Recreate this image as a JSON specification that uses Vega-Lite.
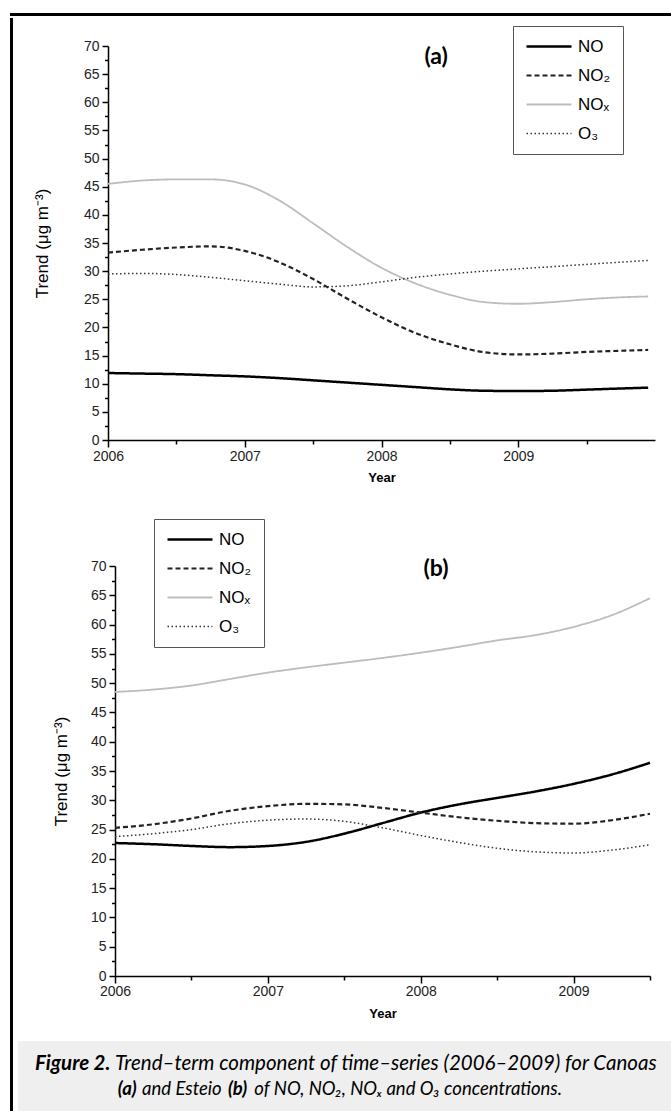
{
  "$schema": "https://vega.github.io/schema/vega-lite/v6.json",
  "background": "white",
  "padding": {"left": 8, "top": 11, "right": 0, "bottom": 0},
  "autosize": {"type": "pad"},
  "config": {
    "view": {"stroke": null},
    "axis": {"domainColor": "#000", "domainWidth": 1.5, "tickColor": "#000", "tickWidth": 1.5, "labelFont": "Liberation Sans", "labelFontSize": 14, "labelColor": "#222", "titleFont": "Liberation Sans", "titleColor": "#000", "grid": false, "labelOverlap": false, "labelFlush": false},
    "legend": {"title": null, "strokeColor": "#555", "fillColor": "white", "padding": 12, "rowPadding": 11, "clipHeight": 17, "symbolType": "stroke", "symbolSize": 2025, "symbolStrokeWidth": 2, "labelFontSize": 17, "labelFont": "Liberation Sans", "labelColor": "#000", "labelOffset": 5}
  },
  "datasets": {
    "trend": [
      {"site": "Canoas", "pollutant": "NO", "year": 2006.0, "value": 11.9},
      {"site": "Canoas", "pollutant": "NO", "year": 2006.25, "value": 11.8},
      {"site": "Canoas", "pollutant": "NO", "year": 2006.5, "value": 11.7},
      {"site": "Canoas", "pollutant": "NO", "year": 2006.75, "value": 11.5},
      {"site": "Canoas", "pollutant": "NO", "year": 2007.0, "value": 11.3},
      {"site": "Canoas", "pollutant": "NO", "year": 2007.25, "value": 11.0},
      {"site": "Canoas", "pollutant": "NO", "year": 2007.5, "value": 10.6},
      {"site": "Canoas", "pollutant": "NO", "year": 2007.75, "value": 10.2},
      {"site": "Canoas", "pollutant": "NO", "year": 2008.0, "value": 9.8},
      {"site": "Canoas", "pollutant": "NO", "year": 2008.25, "value": 9.4},
      {"site": "Canoas", "pollutant": "NO", "year": 2008.5, "value": 9.0},
      {"site": "Canoas", "pollutant": "NO", "year": 2008.75, "value": 8.75},
      {"site": "Canoas", "pollutant": "NO", "year": 2009.0, "value": 8.7},
      {"site": "Canoas", "pollutant": "NO", "year": 2009.25, "value": 8.75},
      {"site": "Canoas", "pollutant": "NO", "year": 2009.5, "value": 8.95},
      {"site": "Canoas", "pollutant": "NO", "year": 2009.75, "value": 9.15},
      {"site": "Canoas", "pollutant": "NO", "year": 2009.95, "value": 9.3},
      {"site": "Canoas", "pollutant": "NO2", "year": 2006.0, "value": 33.3},
      {"site": "Canoas", "pollutant": "NO2", "year": 2006.25, "value": 33.8},
      {"site": "Canoas", "pollutant": "NO2", "year": 2006.5, "value": 34.2},
      {"site": "Canoas", "pollutant": "NO2", "year": 2006.75, "value": 34.4},
      {"site": "Canoas", "pollutant": "NO2", "year": 2007.0, "value": 33.6},
      {"site": "Canoas", "pollutant": "NO2", "year": 2007.25, "value": 31.6},
      {"site": "Canoas", "pollutant": "NO2", "year": 2007.5, "value": 28.6},
      {"site": "Canoas", "pollutant": "NO2", "year": 2007.75, "value": 25.1},
      {"site": "Canoas", "pollutant": "NO2", "year": 2008.0, "value": 21.8},
      {"site": "Canoas", "pollutant": "NO2", "year": 2008.25, "value": 19.0},
      {"site": "Canoas", "pollutant": "NO2", "year": 2008.5, "value": 17.0},
      {"site": "Canoas", "pollutant": "NO2", "year": 2008.75, "value": 15.6},
      {"site": "Canoas", "pollutant": "NO2", "year": 2009.0, "value": 15.2},
      {"site": "Canoas", "pollutant": "NO2", "year": 2009.25, "value": 15.35},
      {"site": "Canoas", "pollutant": "NO2", "year": 2009.5, "value": 15.65},
      {"site": "Canoas", "pollutant": "NO2", "year": 2009.75, "value": 15.85},
      {"site": "Canoas", "pollutant": "NO2", "year": 2009.95, "value": 16.0},
      {"site": "Canoas", "pollutant": "NOx", "year": 2006.0, "value": 45.5},
      {"site": "Canoas", "pollutant": "NOx", "year": 2006.25, "value": 46.1},
      {"site": "Canoas", "pollutant": "NOx", "year": 2006.5, "value": 46.3},
      {"site": "Canoas", "pollutant": "NOx", "year": 2006.75, "value": 46.3},
      {"site": "Canoas", "pollutant": "NOx", "year": 2007.0, "value": 45.4},
      {"site": "Canoas", "pollutant": "NOx", "year": 2007.25, "value": 42.6},
      {"site": "Canoas", "pollutant": "NOx", "year": 2007.5, "value": 38.5},
      {"site": "Canoas", "pollutant": "NOx", "year": 2007.75, "value": 34.3},
      {"site": "Canoas", "pollutant": "NOx", "year": 2008.0, "value": 30.6},
      {"site": "Canoas", "pollutant": "NOx", "year": 2008.25, "value": 27.8},
      {"site": "Canoas", "pollutant": "NOx", "year": 2008.5, "value": 25.8},
      {"site": "Canoas", "pollutant": "NOx", "year": 2008.75, "value": 24.5},
      {"site": "Canoas", "pollutant": "NOx", "year": 2009.0, "value": 24.2},
      {"site": "Canoas", "pollutant": "NOx", "year": 2009.25, "value": 24.5},
      {"site": "Canoas", "pollutant": "NOx", "year": 2009.5, "value": 25.0},
      {"site": "Canoas", "pollutant": "NOx", "year": 2009.75, "value": 25.35},
      {"site": "Canoas", "pollutant": "NOx", "year": 2009.95, "value": 25.5},
      {"site": "Canoas", "pollutant": "O3", "year": 2006.0, "value": 29.5},
      {"site": "Canoas", "pollutant": "O3", "year": 2006.25, "value": 29.6},
      {"site": "Canoas", "pollutant": "O3", "year": 2006.5, "value": 29.4},
      {"site": "Canoas", "pollutant": "O3", "year": 2006.75, "value": 28.9},
      {"site": "Canoas", "pollutant": "O3", "year": 2007.0, "value": 28.3},
      {"site": "Canoas", "pollutant": "O3", "year": 2007.25, "value": 27.7},
      {"site": "Canoas", "pollutant": "O3", "year": 2007.5, "value": 27.2},
      {"site": "Canoas", "pollutant": "O3", "year": 2007.75, "value": 27.4},
      {"site": "Canoas", "pollutant": "O3", "year": 2008.0, "value": 28.1},
      {"site": "Canoas", "pollutant": "O3", "year": 2008.25, "value": 28.9},
      {"site": "Canoas", "pollutant": "O3", "year": 2008.5, "value": 29.5},
      {"site": "Canoas", "pollutant": "O3", "year": 2008.75, "value": 30.0},
      {"site": "Canoas", "pollutant": "O3", "year": 2009.0, "value": 30.4},
      {"site": "Canoas", "pollutant": "O3", "year": 2009.25, "value": 30.8},
      {"site": "Canoas", "pollutant": "O3", "year": 2009.5, "value": 31.2},
      {"site": "Canoas", "pollutant": "O3", "year": 2009.75, "value": 31.6},
      {"site": "Canoas", "pollutant": "O3", "year": 2009.95, "value": 31.9},
      {"site": "Esteio", "pollutant": "NO", "year": 2006.0, "value": 22.7},
      {"site": "Esteio", "pollutant": "NO", "year": 2006.25, "value": 22.5},
      {"site": "Esteio", "pollutant": "NO", "year": 2006.5, "value": 22.2},
      {"site": "Esteio", "pollutant": "NO", "year": 2006.75, "value": 22.0},
      {"site": "Esteio", "pollutant": "NO", "year": 2007.0, "value": 22.2},
      {"site": "Esteio", "pollutant": "NO", "year": 2007.25, "value": 22.9},
      {"site": "Esteio", "pollutant": "NO", "year": 2007.5, "value": 24.3},
      {"site": "Esteio", "pollutant": "NO", "year": 2007.75, "value": 26.1},
      {"site": "Esteio", "pollutant": "NO", "year": 2008.0, "value": 27.9},
      {"site": "Esteio", "pollutant": "NO", "year": 2008.25, "value": 29.3},
      {"site": "Esteio", "pollutant": "NO", "year": 2008.5, "value": 30.4},
      {"site": "Esteio", "pollutant": "NO", "year": 2008.75, "value": 31.5},
      {"site": "Esteio", "pollutant": "NO", "year": 2009.0, "value": 32.8},
      {"site": "Esteio", "pollutant": "NO", "year": 2009.25, "value": 34.4},
      {"site": "Esteio", "pollutant": "NO", "year": 2009.5, "value": 36.4},
      {"site": "Esteio", "pollutant": "NO2", "year": 2006.0, "value": 25.3},
      {"site": "Esteio", "pollutant": "NO2", "year": 2006.25, "value": 25.9},
      {"site": "Esteio", "pollutant": "NO2", "year": 2006.5, "value": 26.9},
      {"site": "Esteio", "pollutant": "NO2", "year": 2006.75, "value": 28.2},
      {"site": "Esteio", "pollutant": "NO2", "year": 2007.0, "value": 29.0},
      {"site": "Esteio", "pollutant": "NO2", "year": 2007.25, "value": 29.4},
      {"site": "Esteio", "pollutant": "NO2", "year": 2007.5, "value": 29.3},
      {"site": "Esteio", "pollutant": "NO2", "year": 2007.75, "value": 28.7},
      {"site": "Esteio", "pollutant": "NO2", "year": 2008.0, "value": 27.9},
      {"site": "Esteio", "pollutant": "NO2", "year": 2008.25, "value": 27.1},
      {"site": "Esteio", "pollutant": "NO2", "year": 2008.5, "value": 26.5},
      {"site": "Esteio", "pollutant": "NO2", "year": 2008.75, "value": 26.1},
      {"site": "Esteio", "pollutant": "NO2", "year": 2009.0, "value": 26.0},
      {"site": "Esteio", "pollutant": "NO2", "year": 2009.25, "value": 26.6},
      {"site": "Esteio", "pollutant": "NO2", "year": 2009.5, "value": 27.7},
      {"site": "Esteio", "pollutant": "NOx", "year": 2006.0, "value": 48.5},
      {"site": "Esteio", "pollutant": "NOx", "year": 2006.25, "value": 48.9},
      {"site": "Esteio", "pollutant": "NOx", "year": 2006.5, "value": 49.6},
      {"site": "Esteio", "pollutant": "NOx", "year": 2006.75, "value": 50.7},
      {"site": "Esteio", "pollutant": "NOx", "year": 2007.0, "value": 51.8},
      {"site": "Esteio", "pollutant": "NOx", "year": 2007.25, "value": 52.7},
      {"site": "Esteio", "pollutant": "NOx", "year": 2007.5, "value": 53.5},
      {"site": "Esteio", "pollutant": "NOx", "year": 2007.75, "value": 54.3},
      {"site": "Esteio", "pollutant": "NOx", "year": 2008.0, "value": 55.2},
      {"site": "Esteio", "pollutant": "NOx", "year": 2008.25, "value": 56.2},
      {"site": "Esteio", "pollutant": "NOx", "year": 2008.5, "value": 57.3},
      {"site": "Esteio", "pollutant": "NOx", "year": 2008.75, "value": 58.2},
      {"site": "Esteio", "pollutant": "NOx", "year": 2009.0, "value": 59.6},
      {"site": "Esteio", "pollutant": "NOx", "year": 2009.25, "value": 61.6},
      {"site": "Esteio", "pollutant": "NOx", "year": 2009.5, "value": 64.5},
      {"site": "Esteio", "pollutant": "O3", "year": 2006.0, "value": 23.8},
      {"site": "Esteio", "pollutant": "O3", "year": 2006.25, "value": 24.3},
      {"site": "Esteio", "pollutant": "O3", "year": 2006.5, "value": 25.0},
      {"site": "Esteio", "pollutant": "O3", "year": 2006.75, "value": 26.0},
      {"site": "Esteio", "pollutant": "O3", "year": 2007.0, "value": 26.6},
      {"site": "Esteio", "pollutant": "O3", "year": 2007.25, "value": 26.8},
      {"site": "Esteio", "pollutant": "O3", "year": 2007.5, "value": 26.4},
      {"site": "Esteio", "pollutant": "O3", "year": 2007.75, "value": 25.3},
      {"site": "Esteio", "pollutant": "O3", "year": 2008.0, "value": 24.0},
      {"site": "Esteio", "pollutant": "O3", "year": 2008.25, "value": 22.8},
      {"site": "Esteio", "pollutant": "O3", "year": 2008.5, "value": 21.8},
      {"site": "Esteio", "pollutant": "O3", "year": 2008.75, "value": 21.2},
      {"site": "Esteio", "pollutant": "O3", "year": 2009.0, "value": 21.0},
      {"site": "Esteio", "pollutant": "O3", "year": 2009.25, "value": 21.5},
      {"site": "Esteio", "pollutant": "O3", "year": 2009.5, "value": 22.4}
    ]
  },
  "spacing": 0,
  "vconcat": [
    {"width": 663, "height": 3, "view": {"fill": "#000", "stroke": null}, "data": {"values": [{}]}, "mark": {"type": "point", "opacity": 0}},
    {
      "spacing": 0,
      "hconcat": [
        {"width": 3, "height": 1096, "view": {"fill": "#000", "stroke": null}, "data": {"values": [{}]}, "mark": {"type": "point", "opacity": 0}},
        {
          "spacing": 0,
          "vconcat": [
            {"width": 1, "height": 7, "data": {"values": [{}]}, "mark": {"type": "point", "opacity": 0}},
            {
              "spacing": 0,
              "resolve": {"scale": {"color": "independent", "strokeDash": "independent", "strokeWidth": "independent"}, "legend": {"color": "independent", "strokeDash": "independent"}},
              "hconcat": [
                {"width": 15, "height": 10, "data": {"values": [{}]}, "mark": {"type": "point", "opacity": 0}},
                {
                  "width": 547, "height": 394,
                  "data": {"name": "trend"},
                  "transform": [{"filter": "datum.site === 'Canoas'"}],
                  "resolve": {"axis": {"x": "independent", "y": "independent"}},
                  "layer": [
                    {
                      "mark": {"type": "line", "interpolate": "monotone"},
                      "encoding": {
                        "x": {"field": "year", "type": "quantitative", "scale": {"domain": [2006, 2010], "nice": false, "zero": false},
                          "axis": {"title": "Year", "titleFontSize": 13, "titleFontWeight": "bold", "titlePadding": 8, "format": "d", "labelOverlap": false, "values": [2006, 2007, 2008, 2009], "tickSize": 7, "labelPadding": 2}},
                        "y": {"field": "value", "type": "quantitative", "scale": {"domain": [0, 70], "nice": false},
                          "axis": {"title": "Trend (μg m⁻³)", "titleFontSize": 17, "titleFontWeight": "normal", "titlePadding": 32, "labelOverlap": false, "values": [0, 5, 10, 15, 20, 25, 30, 35, 40, 45, 50, 55, 60, 65, 70], "tickSize": 6, "labelPadding": 3}},
                        "color": {"field": "pollutant", "type": "nominal", "scale": {"domain": ["NO", "NO2", "NOx", "O3"], "range": ["#000000", "#222222", "#bdbdbd", "#333333"]},
                          "legend": {"orient": "none", "legendX": 405, "legendY": -20, "labelExpr": "{'NO':'NO','NO2':'NO₂','NOx':'NOₓ','O3':'O₃'}[datum.label]"}},
                        "strokeDash": {"field": "pollutant", "type": "nominal", "scale": {"domain": ["NO", "NO2", "NOx", "O3"], "range": [[1, 0], [5, 3], [1, 0], [1.5, 2.5]]},
                          "legend": {"orient": "none", "legendX": 405, "legendY": -20, "labelExpr": "{'NO':'NO','NO2':'NO₂','NOx':'NOₓ','O3':'O₃'}[datum.label]"}},
                        "strokeWidth": {"field": "pollutant", "type": "nominal", "scale": {"domain": ["NO", "NO2", "NOx", "O3"], "range": [2.5, 1.5, 2.5, 1.5]}, "legend": null}
                      }
                    },
                    {
                      "data": {"values": [{}]},
                      "mark": {"type": "text", "text": "(a)", "font": "Lato", "fontWeight": "bold", "fontSize": 23, "color": "#000", "baseline": "middle"},
                      "encoding": {
                        "x": {"datum": 2008.4, "type": "quantitative", "axis": {"orient": "bottom", "values": [2006.5, 2007.5, 2008.5, 2009.5], "labels": false, "title": null, "domain": false, "tickSize": 4}},
                        "y": {"datum": 68, "type": "quantitative", "axis": {"orient": "left", "values": [2.5, 7.5, 12.5, 17.5, 22.5, 27.5, 32.5, 37.5, 42.5, 47.5, 52.5, 57.5, 62.5, 67.5], "labels": false, "title": null, "domain": false, "tickSize": 3.5}}
                      }
                    }
                  ]
                }
              ]
            },
            {"width": 1, "height": 34, "data": {"values": [{}]}, "mark": {"type": "point", "opacity": 0}},
            {
              "spacing": 0,
              "resolve": {"scale": {"color": "independent", "strokeDash": "independent", "strokeWidth": "independent"}, "legend": {"color": "independent", "strokeDash": "independent"}},
              "hconcat": [
                {"width": 34, "height": 10, "data": {"values": [{}]}, "mark": {"type": "point", "opacity": 0}},
                {
                  "width": 535, "height": 410,
                  "data": {"name": "trend"},
                  "transform": [{"filter": "datum.site === 'Esteio'"}],
                  "resolve": {"axis": {"x": "independent", "y": "independent"}},
                  "layer": [
                    {
                      "mark": {"type": "line", "interpolate": "monotone"},
                      "encoding": {
                        "x": {"field": "year", "type": "quantitative", "scale": {"domain": [2006, 2009.5], "nice": false, "zero": false},
                          "axis": {"title": "Year", "titleFontSize": 13, "titleFontWeight": "bold", "titlePadding": 9, "format": "d", "labelOverlap": false, "values": [2006, 2007, 2008, 2009], "tickSize": 7, "labelPadding": 1}},
                        "y": {"field": "value", "type": "quantitative", "scale": {"domain": [0, 70], "nice": false},
                          "axis": {"title": "Trend (μg m⁻³)", "titleFontSize": 17, "titleFontWeight": "normal", "titlePadding": 20, "labelOverlap": false, "values": [0, 5, 10, 15, 20, 25, 30, 35, 40, 45, 50, 55, 60, 65, 70], "tickSize": 6, "labelPadding": 3}},
                        "color": {"field": "pollutant", "type": "nominal", "scale": {"domain": ["NO", "NO2", "NOx", "O3"], "range": ["#000000", "#222222", "#bdbdbd", "#333333"]},
                          "legend": {"orient": "none", "legendX": 39, "legendY": -47, "labelExpr": "{'NO':'NO','NO2':'NO₂','NOx':'NOₓ','O3':'O₃'}[datum.label]"}},
                        "strokeDash": {"field": "pollutant", "type": "nominal", "scale": {"domain": ["NO", "NO2", "NOx", "O3"], "range": [[1, 0], [5, 3], [1, 0], [1.5, 2.5]]},
                          "legend": {"orient": "none", "legendX": 39, "legendY": -47, "labelExpr": "{'NO':'NO','NO2':'NO₂','NOx':'NOₓ','O3':'O₃'}[datum.label]"}},
                        "strokeWidth": {"field": "pollutant", "type": "nominal", "scale": {"domain": ["NO", "NO2", "NOx", "O3"], "range": [2.5, 1.5, 2.5, 1.5]}, "legend": null}
                      }
                    },
                    {
                      "data": {"values": [{}]},
                      "mark": {"type": "text", "text": "(b)", "font": "Lato", "fontWeight": "bold", "fontSize": 23, "color": "#000", "baseline": "middle"},
                      "encoding": {
                        "x": {"datum": 2008.1, "type": "quantitative", "axis": {"orient": "bottom", "values": [2006.5, 2007.5, 2008.5, 2009.5], "labels": false, "title": null, "domain": false, "tickSize": 4}},
                        "y": {"datum": 69.5, "type": "quantitative", "axis": {"orient": "left", "values": [2.5, 7.5, 12.5, 17.5, 22.5, 27.5, 32.5, 37.5, 42.5, 47.5, 52.5, 57.5, 62.5, 67.5], "labels": false, "title": null, "domain": false, "tickSize": 3.5}}
                      }
                    }
                  ]
                }
              ]
            },
            {"width": 1, "height": 21, "data": {"values": [{}]}, "mark": {"type": "point", "opacity": 0}},
            {
              "width": 660, "height": 70,
              "view": {"fill": "#efefef", "stroke": null},
              "data": {"values": [{}]},
              "layer": [
                {"mark": {"type": "text", "text": "Figure 2.", "align": "right", "baseline": "middle", "font": "Lato", "fontStyle": "italic", "fontWeight": "bold", "fontSize": 20.5, "color": "#000"},
                 "encoding": {"x": {"datum": 0.14, "type": "quantitative", "scale": {"domain": [0, 1]}, "axis": null}, "y": {"datum": 0.675, "type": "quantitative", "scale": {"domain": [0, 1]}, "axis": null}}},
                {"mark": {"type": "text", "text": "Trend–term component of time–series (2006–2009) for Canoas", "align": "left", "baseline": "middle", "font": "Lato", "fontStyle": "italic", "fontSize": 20.5, "color": "#000"},
                 "encoding": {"x": {"datum": 0.147, "type": "quantitative"}, "y": {"datum": 0.675, "type": "quantitative"}}},
                {"mark": {"type": "text", "text": "(a)", "align": "right", "baseline": "middle", "font": "Lato", "fontStyle": "italic", "fontWeight": "bold", "fontSize": 18.5, "color": "#000"},
                 "encoding": {"x": {"datum": 0.18, "type": "quantitative"}, "y": {"datum": 0.32, "type": "quantitative"}}},
                {"mark": {"type": "text", "text": "and Esteio", "align": "left", "baseline": "middle", "font": "Lato", "fontStyle": "italic", "fontSize": 18.5, "color": "#000"},
                 "encoding": {"x": {"datum": 0.188, "type": "quantitative"}, "y": {"datum": 0.32, "type": "quantitative"}}},
                {"mark": {"type": "text", "text": "(b)", "align": "left", "baseline": "middle", "font": "Lato", "fontStyle": "italic", "fontWeight": "bold", "fontSize": 18.5, "color": "#000"},
                 "encoding": {"x": {"datum": 0.318, "type": "quantitative"}, "y": {"datum": 0.32, "type": "quantitative"}}},
                {"mark": {"type": "text", "text": "of NO, NO₂, NOₓ and O₃ concentrations.", "align": "left", "baseline": "middle", "font": "Lato", "fontStyle": "italic", "fontSize": 18.5, "color": "#000"},
                 "encoding": {"x": {"datum": 0.358, "type": "quantitative"}, "y": {"datum": 0.32, "type": "quantitative"}}}
              ]
            }
          ]
        }
      ]
    }
  ]
}
